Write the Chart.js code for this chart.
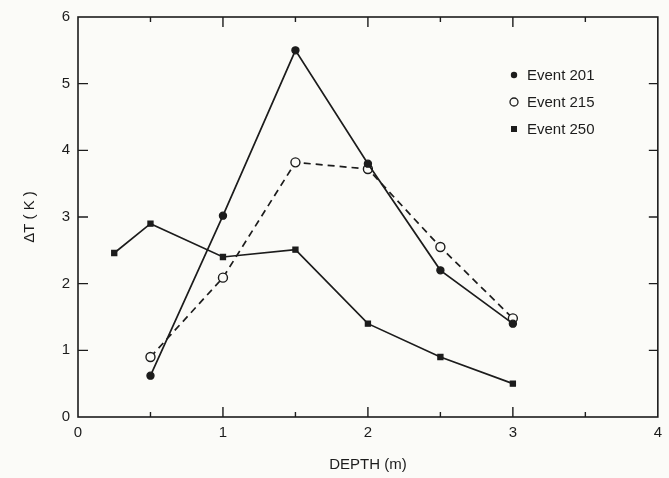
<!DOCTYPE html>
<html>
<head>
<meta charset="utf-8">
<script src="https://cdn.jsdelivr.net/npm/chart.js@4.4.1/dist/chart.umd.min.js"></script>
<style>
  html, body { margin: 0; padding: 0; background: #fbfbf8; }
  #wrap { width: 669px; height: 478px; position: relative; }
</style>
</head>
<body>
<div id="wrap"><canvas id="c" width="669" height="478"></canvas></div>
<script>
// ---- data ----
const depth201 = [0.5, 1, 1.5, 2, 2.5, 3];
const event201 = [0.62, 3.02, 5.5, 3.8, 2.2, 1.4];
const depth215 = [0.5, 1, 1.5, 2, 2.5, 3];
const event215 = [0.9, 2.09, 3.82, 3.72, 2.55, 1.48];
const depth250 = [0.25, 0.5, 1, 1.5, 2, 2.5, 3];
const event250 = [2.46, 2.9, 2.4, 2.51, 1.4, 0.9, 0.5];
const seriesLabels = ['Event 201', 'Event 215', 'Event 250'];
const xTicks = [0, 1, 2, 3, 4];
const yTicks = [0, 1, 2, 3, 4, 5, 6];

const INK = '#1c1c1c';
const FONT = '"Liberation Sans", Arial, sans-serif';
const toPts = (xs, ys) => xs.map((x, i) => ({ x: x, y: ys[i] }));

// Inward ticks on all four sides + frame
const frameTicks = {
  id: 'frameTicks',
  afterDatasetsDraw(chart) {
    const { ctx, chartArea: a, scales } = chart;
    const xs = scales.x, ys = scales.y;
    ctx.save();
    ctx.strokeStyle = INK;
    ctx.lineWidth = 1.6;
    ctx.strokeRect(a.left, a.top, a.right - a.left, a.bottom - a.top);
    ctx.lineWidth = 1.4;
    for (let v = 0.5; v < 4; v += 0.5) {
      const px = xs.getPixelForValue(v);
      const len = Number.isInteger(v) ? 10 : 5;
      ctx.beginPath();
      ctx.moveTo(px, a.bottom); ctx.lineTo(px, a.bottom - len);
      ctx.moveTo(px, a.top); ctx.lineTo(px, a.top + len);
      ctx.stroke();
    }
    for (let v = 1; v < 6; v++) {
      const py = ys.getPixelForValue(v);
      ctx.beginPath();
      ctx.moveTo(a.left, py); ctx.lineTo(a.left + 10, py);
      ctx.moveTo(a.right, py); ctx.lineTo(a.right - 9, py);
      ctx.stroke();
    }
    ctx.restore();
  }
};

// Legend drawn inside plot (top-right)
const innerLegend = {
  id: 'innerLegend',
  afterDraw(chart) {
    const { ctx } = chart;
    const mx = 514, tx = 527, rows = [75, 102, 129];
    ctx.save();
    ctx.font = '15px ' + FONT;
    ctx.textBaseline = 'middle';
    chart.data.datasets.forEach((ds, i) => {
      const y = rows[i];
      ctx.strokeStyle = INK;
      ctx.lineWidth = 1.3;
      if (ds.pointStyle === 'rect') {
        ctx.fillStyle = INK;
        ctx.fillRect(mx - 3, y - 3, 6, 6);
      } else if (ds.label === seriesLabels[1]) {
        ctx.beginPath();
        ctx.arc(mx, y, 4, 0, Math.PI * 2);
        ctx.fillStyle = '#fbfbf8'; ctx.fill(); ctx.stroke();
      } else {
        ctx.beginPath();
        ctx.arc(mx, y, 3.2, 0, Math.PI * 2);
        ctx.fillStyle = INK; ctx.fill();
      }
      ctx.fillStyle = INK;
      ctx.fillText(ds.label, tx, y + 1);
    });
    ctx.restore();
  }
};

const bg = {
  id: 'bg',
  beforeDraw(chart) {
    const { ctx } = chart;
    ctx.save();
    ctx.fillStyle = '#fbfbf8';
    ctx.fillRect(0, 0, chart.width, chart.height);
    ctx.restore();
  }
};

const common = { borderColor: INK, borderWidth: 1.7, showLine: true, tension: 0, pointBorderColor: INK, pointBorderWidth: 1.4 };

new Chart(document.getElementById('c'), {
  type: 'scatter',
  data: {
    datasets: [
      Object.assign({}, common, { label: seriesLabels[0], data: toPts(depth201, event201), pointStyle: 'circle', pointRadius: 3.5, pointBackgroundColor: INK }),
      Object.assign({}, common, { label: seriesLabels[1], data: toPts(depth215, event215), pointStyle: 'circle', pointRadius: 4.5, pointBackgroundColor: '#fbfbf8', borderDash: [7, 5] }),
      Object.assign({}, common, { label: seriesLabels[2], data: toPts(depth250, event250), pointStyle: 'rect', pointRadius: 3.5, pointBackgroundColor: INK })
    ]
  },
  options: {
    responsive: false,
    animation: false,
    layout: { padding: { top: 15, right: 11, left: 0, bottom: 0 } },
    plugins: { legend: { display: false }, tooltip: { enabled: false } },
    scales: {
      x: {
        type: 'linear', min: 0, max: 4,
        afterBuildTicks(s) { s.ticks = xTicks.map(v => ({ value: v })); },
        afterFit(s) { s.height = 61; },
        grid: { display: false, drawTicks: false },
        border: { display: false },
        ticks: { color: INK, padding: 7, maxRotation: 0, font: { family: FONT, size: 15 } },
        title: { display: true, text: 'DEPTH (m)', color: INK, padding: { top: 12 }, font: { family: FONT, size: 15 } }
      },
      y: {
        type: 'linear', min: 0, max: 6,
        afterBuildTicks(s) { s.ticks = yTicks.map(v => ({ value: v })); },
        afterFit(s) { s.width = 78; },
        grid: { display: false, drawTicks: false },
        border: { display: false },
        ticks: { color: INK, padding: 8, font: { family: FONT, size: 15 } },
        title: { display: true, text: 'ΔT ( K )', color: INK, padding: { top: 21 }, font: { family: FONT, size: 15 } }
      }
    }
  },
  plugins: [bg, frameTicks, innerLegend]
});
</script>
</body>
</html>
